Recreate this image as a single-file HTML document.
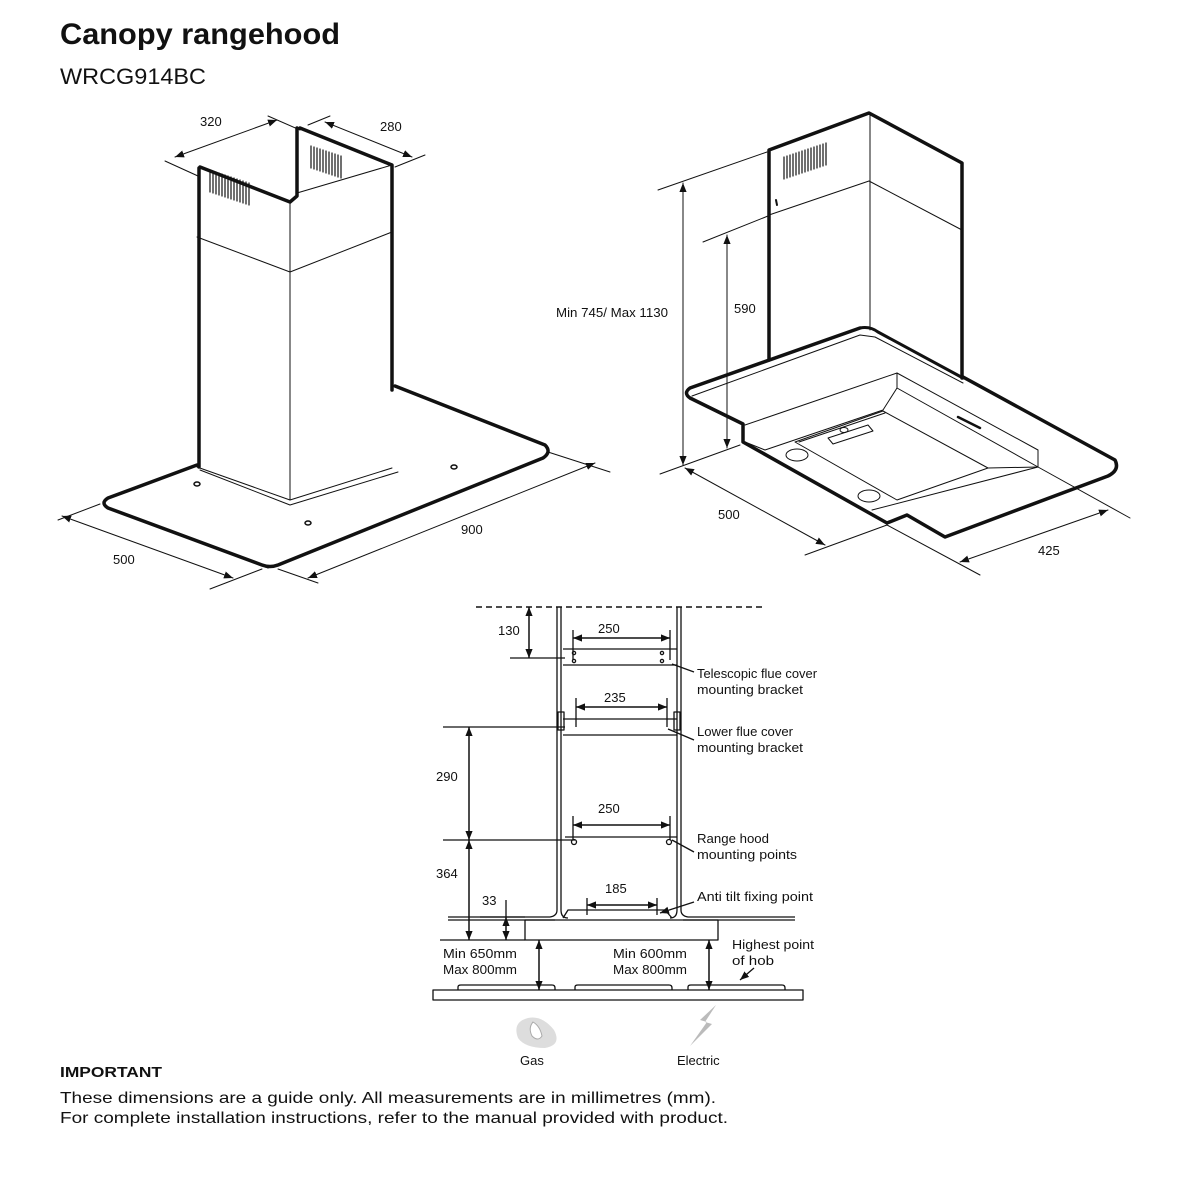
<!DOCTYPE html>
<html><head><meta charset="utf-8"><style>
html,body{margin:0;padding:0;background:#fff}
svg{display:block}
text{font-family:"Liberation Sans",sans-serif;fill:#111}
.l{font-size:13px}
</style></head><body>
<svg width="1181" height="1181" viewBox="0 0 1181 1181" xmlns="http://www.w3.org/2000/svg">
<defs>
<marker id="a" viewBox="0 0 10 10" refX="10" refY="5" markerWidth="9" markerHeight="9" orient="auto-start-reverse" markerUnits="userSpaceOnUse"><path d="M0,1 L10,5 L0,9 z" fill="#111"/></marker>
</defs>
<text x="60" y="44" font-size="30" font-weight="bold" textLength="280" lengthAdjust="spacingAndGlyphs">Canopy rangehood</text>
<text x="60" y="84" font-size="22" textLength="146" lengthAdjust="spacingAndGlyphs">WRCG914BC</text>

<!-- LEFT DRAWING -->
<g fill="none" stroke="#111" stroke-linejoin="round" stroke-linecap="round">
<g stroke-width="1">
<line x1="290" y1="202" x2="290" y2="500"/>
<polyline points="197,237 290,272 392,232"/>
<polyline points="297,193 392,165"/>
<polyline points="197,467 290,500 392,468"/>
<polyline points="200,470 290,505 398,472"/>
<polyline points="110,508 268,568 545,458"/>
</g>
<g stroke-width="3.5">
<polyline points="199,168 199,467"/>
<polyline points="200,167 290,202 297,196 297,128"/>
<polyline points="300,128 392,165 392,390"/>
<path d="M197,465 L108,498 Q100,503 108,508 L262,565 Q270,568 278,565 L543,458 Q552,452 545,445 L395,386"/>
</g>
<g stroke-width="1.2">
<path d="M210,170 v22 M213,171 v22 M216,172 v22 M219,173 v22 M222,174 v22 M225,175 v22 M228,176 v22 M231,177 v22 M234,178 v22 M237,179 v22 M240,180 v22 M243,181 v22 M246,182 v22 M249,183 v22"/>
<path d="M311,146 v22 M314,147 v22 M317,148 v22 M320,149 v22 M323,150 v22 M326,151 v22 M329,152 v22 M332,153 v22 M335,154 v22 M338,155 v22 M341,156 v22"/>
</g>
<g stroke-width="1.5"><ellipse cx="197" cy="484" rx="3" ry="2"/><ellipse cx="308" cy="523" rx="3" ry="2"/><ellipse cx="454" cy="467" rx="3" ry="2"/></g>
<g stroke-width="1">
<line x1="165" y1="161" x2="198" y2="176"/>
<line x1="268" y1="116" x2="300" y2="130"/>
<line x1="175" y1="157" x2="277" y2="120" marker-start="url(#a)" marker-end="url(#a)"/>
<line x1="308" y1="125" x2="330" y2="116"/>
<line x1="395" y1="167" x2="425" y2="155"/>
<line x1="325" y1="122" x2="412" y2="157" marker-start="url(#a)" marker-end="url(#a)"/>
<line x1="58" y1="520" x2="100" y2="504"/>
<line x1="210" y1="589" x2="262" y2="569"/>
<line x1="62" y1="516" x2="233" y2="578" marker-start="url(#a)" marker-end="url(#a)"/>
<line x1="278" y1="569" x2="318" y2="583"/>
<line x1="548" y1="452" x2="610" y2="472"/>
<line x1="308" y1="578" x2="595" y2="463" marker-start="url(#a)" marker-end="url(#a)"/>
</g>
</g>
<text x="200" y="126" class="l">320</text>
<text x="380" y="131" class="l">280</text>
<text x="113" y="564" class="l">500</text>
<text x="461" y="534" class="l">900</text>

<!-- RIGHT DRAWING -->
<g fill="none" stroke="#111" stroke-linejoin="round" stroke-linecap="round">
<g stroke-width="1">
<line x1="870" y1="113" x2="870" y2="330"/>
<polyline points="769,215 869,181 962,230"/>
<polyline points="692,396 860,335 875,337 963,383"/>
<polyline points="745,425 897,373 1038,450 1038,467 872,510"/>
<polyline points="745,442 765,450 883,410 897,388 1038,467"/>
<line x1="897" y1="373" x2="897" y2="388"/>
<polygon points="795,442 883,411 988,468 897,500"/>
<polyline points="799,442 885,413"/>
<line x1="988" y1="468" x2="1038" y2="467"/>
<path d="M828,438 l40,-13 l5,6 l-40,13 z"/>
<ellipse cx="844" cy="430" rx="4" ry="2.5"/>
<ellipse cx="797" cy="455" rx="11" ry="6"/>
<ellipse cx="869" cy="496" rx="11" ry="6"/>
</g>
<g stroke-width="3.5">
<polyline points="769,360 769,150 869,113 962,163 962,378"/>
<path d="M860,328 L690,388 Q683,393 690,398 L743,424 L743,442 L887,523 L907,515 L945,537 L1108,476 Q1120,470 1115,460 L963,377"/>
<path d="M860,328 Q870,326 878,332 L963,378" stroke-width="3"/>
<line x1="958" y1="417" x2="980" y2="428" stroke-width="2.5"/>
</g>
<g stroke-width="1.2">
<path d="M784,157 v22 M787,156 v22 M790,155 v22 M793,154 v22 M796,153 v22 M799,152 v22 M802,151 v22 M805,150 v22 M808,149 v22 M811,148 v22 M814,147 v22 M817,146 v22 M820,145 v22 M823,144 v22 M826,143 v22"/>
</g>
<path d="M776,200 l1,5" stroke-width="2"/>
<g stroke-width="1">
<line x1="658" y1="190" x2="767" y2="152"/>
<line x1="703" y1="242" x2="768" y2="216"/>
<line x1="660" y1="474" x2="740" y2="445"/>
<line x1="683" y1="183" x2="683" y2="465" marker-start="url(#a)" marker-end="url(#a)"/>
<line x1="727" y1="235" x2="727" y2="448" marker-start="url(#a)" marker-end="url(#a)"/>
<line x1="685" y1="468" x2="825" y2="545" marker-start="url(#a)" marker-end="url(#a)"/>
<line x1="805" y1="555" x2="887" y2="525"/>
<line x1="887" y1="525" x2="980" y2="575"/>
<line x1="1038" y1="467" x2="1130" y2="518"/>
<line x1="960" y1="562" x2="1108" y2="510" marker-start="url(#a)" marker-end="url(#a)"/>
</g>
</g>
<text x="556" y="317" class="l" textLength="112" lengthAdjust="spacingAndGlyphs">Min 745/ Max 1130</text>
<text x="734" y="313" class="l">590</text>
<text x="718" y="519" class="l">500</text>
<text x="1038" y="555" class="l">425</text>

<!-- BOTTOM DRAWING -->
<g fill="none" stroke="#111" stroke-linejoin="round">
<line x1="476" y1="607" x2="762" y2="607" stroke-width="1.5" stroke-dasharray="6,4"/>
<g stroke-width="1.3">
<path d="M557,607 V910 Q557,916 550,917 H448"/>
<path d="M561,607 V910 Q561,918 568,918"/>
<path d="M681,607 V910 Q681,916 688,917 H795"/>
<path d="M677,607 V910 Q677,918 670,918"/>
<path d="M448,920 H555 M683,920 H795"/>
<rect x="525" y="920" width="193" height="20"/>
<path d="M563,918 L568,910 H665 L672,918"/>
<line x1="563" y1="649" x2="677" y2="649"/>
<line x1="563" y1="665" x2="677" y2="665"/>
<line x1="563" y1="719" x2="677" y2="719"/>
<line x1="563" y1="735" x2="677" y2="735"/>
<line x1="565" y1="837" x2="677" y2="837"/>
<rect x="558" y="712" width="6" height="18"/><rect x="674" y="712" width="6" height="18"/>
<line x1="443" y1="727" x2="565" y2="727"/>
<line x1="443" y1="840" x2="575" y2="840"/>
<line x1="510" y1="658" x2="565" y2="658"/>
<line x1="440" y1="940" x2="525" y2="940"/>
<line x1="480" y1="917" x2="525" y2="917"/>
<line x1="506" y1="900" x2="506" y2="917"/>
<line x1="573" y1="630" x2="573" y2="660"/><line x1="670" y1="630" x2="670" y2="660"/>
<line x1="576" y1="698" x2="576" y2="727"/><line x1="667" y1="698" x2="667" y2="727"/>
<line x1="573" y1="816" x2="573" y2="840"/><line x1="670" y1="816" x2="670" y2="840"/>
<line x1="587" y1="898" x2="587" y2="915"/><line x1="657" y1="898" x2="657" y2="915"/>
<circle cx="574" cy="653" r="1.6"/><circle cx="574" cy="661" r="1.6"/><circle cx="662" cy="653" r="1.6"/><circle cx="662" cy="661" r="1.6"/>
<circle cx="574" cy="842" r="2.5"/><circle cx="669" cy="842" r="2.5"/>
<rect x="433" y="990" width="370" height="10"/>
<path d="M458,990 V987 Q458,985 461,985 H552 Q555,985 555,988 V990"/>
<path d="M575,990 V987 Q575,985 578,985 H669 Q672,985 672,988 V990"/>
<path d="M688,990 V987 Q688,985 691,985 H782 Q785,985 785,988 V990"/>
<line x1="672" y1="664" x2="694" y2="672"/>
<line x1="668" y1="729" x2="694" y2="740"/>
<line x1="672" y1="840" x2="694" y2="852"/>
<line x1="740" y1="980" x2="754" y2="968" marker-start="url(#a)"/>
<line x1="660" y1="913" x2="694" y2="902" marker-start="url(#a)"/>
</g>
<g stroke-width="1.5">
<line x1="529" y1="607" x2="529" y2="658" marker-start="url(#a)" marker-end="url(#a)"/>
<line x1="573" y1="638" x2="670" y2="638" marker-start="url(#a)" marker-end="url(#a)"/>
<line x1="576" y1="707" x2="667" y2="707" marker-start="url(#a)" marker-end="url(#a)"/>
<line x1="469" y1="727" x2="469" y2="840" marker-start="url(#a)" marker-end="url(#a)"/>
<line x1="573" y1="825" x2="670" y2="825" marker-start="url(#a)" marker-end="url(#a)"/>
<line x1="469" y1="840" x2="469" y2="940" marker-start="url(#a)" marker-end="url(#a)"/>
<line x1="506" y1="917" x2="506" y2="940" marker-start="url(#a)" marker-end="url(#a)"/>
<line x1="587" y1="905" x2="657" y2="905" marker-start="url(#a)" marker-end="url(#a)"/>
<line x1="539" y1="940" x2="539" y2="990" marker-start="url(#a)" marker-end="url(#a)"/>
<line x1="709" y1="940" x2="709" y2="990" marker-start="url(#a)" marker-end="url(#a)"/>
</g>
</g>
<path d="M528,1018 Q542,1015 554,1030 Q562,1045 545,1048 Q525,1048 518,1038 Q512,1022 528,1018 z" fill="#ddd"/>
<path d="M533,1022 Q540,1026 542,1036 Q538,1042 532,1036 Q528,1028 533,1022 z" fill="#fff" stroke="#aaa"/>
<path d="M716,1005 L700,1020 L707,1022 L690,1046 L712,1024 L705,1022 z" fill="#bbb"/>
<g>
<text x="498" y="635" class="l">130</text>
<text x="598" y="633" class="l">250</text>
<text x="604" y="702" class="l">235</text>
<text x="598" y="813" class="l">250</text>
<text x="605" y="893" class="l">185</text>
<text x="436" y="781" class="l">290</text>
<text x="436" y="878" class="l">364</text>
<text x="482" y="905" class="l">33</text>
<text x="697" y="678" class="l" textLength="120" lengthAdjust="spacingAndGlyphs">Telescopic flue cover</text>
<text x="697" y="694" class="l" textLength="106" lengthAdjust="spacingAndGlyphs">mounting bracket</text>
<text x="697" y="736" class="l" textLength="96" lengthAdjust="spacingAndGlyphs">Lower flue cover</text>
<text x="697" y="752" class="l" textLength="106" lengthAdjust="spacingAndGlyphs">mounting bracket</text>
<text x="697" y="843" class="l" textLength="72" lengthAdjust="spacingAndGlyphs">Range hood</text>
<text x="697" y="859" class="l" textLength="100" lengthAdjust="spacingAndGlyphs">mounting points</text>
<text x="697" y="901" class="l" textLength="116" lengthAdjust="spacingAndGlyphs">Anti tilt fixing point</text>
<text x="443" y="958" class="l" textLength="74" lengthAdjust="spacingAndGlyphs">Min 650mm</text>
<text x="443" y="974" class="l" textLength="74" lengthAdjust="spacingAndGlyphs">Max 800mm</text>
<text x="613" y="958" class="l" textLength="74" lengthAdjust="spacingAndGlyphs">Min 600mm</text>
<text x="613" y="974" class="l" textLength="74" lengthAdjust="spacingAndGlyphs">Max 800mm</text>
<text x="732" y="949" class="l" textLength="82" lengthAdjust="spacingAndGlyphs">Highest point</text>
<text x="732" y="965" class="l" textLength="42" lengthAdjust="spacingAndGlyphs">of hob</text>
<text x="520" y="1065" class="l">Gas</text>
<text x="677" y="1065" class="l">Electric</text>
</g>
<text x="60" y="1077" font-size="15" font-weight="bold" textLength="102" lengthAdjust="spacingAndGlyphs">IMPORTANT</text>
<text x="60" y="1103" font-size="16" textLength="656" lengthAdjust="spacingAndGlyphs">These dimensions are a guide only. All measurements are in millimetres (mm).</text>
<text x="60" y="1123" font-size="16" textLength="668" lengthAdjust="spacingAndGlyphs">For complete installation instructions, refer to the manual provided with product.</text>
</svg>
</body></html>
